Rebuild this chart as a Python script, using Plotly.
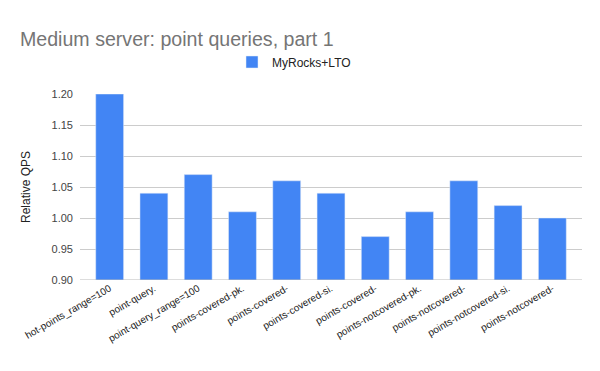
import plotly.graph_objects as go

categories = ["hot-points_range=100", "point-query.", "point-query_range=100",
              "points-covered-pk.", "points-covered-", "points-covered-si.",
              "points-covered-", "points-notcovered-pk.", "points-notcovered-",
              "points-notcovered-si.", "points-notcovered-"]
values = [1.20, 1.04, 1.07, 1.01, 1.06, 1.04, 0.97, 1.01, 1.06, 1.02, 1.00]
yticks = [0.90, 0.95, 1.00, 1.05, 1.10, 1.15, 1.20]
series_name = "MyRocks+LTO"

idx = list(range(len(categories)))

fig = go.Figure()
fig.add_trace(go.Bar(x=idx, y=values, name=series_name, marker_color="#4285f4",
                     width=0.63, showlegend=True))

fig.update_layout(
    width=600, height=371,
    margin=dict(l=72, r=26, t=86, b=99, autoexpand=False),
    paper_bgcolor="white", plot_bgcolor="white",
    font=dict(family="Liberation Sans, Arial, sans-serif", color="#222222"),
    title=dict(text="Medium server: point queries, part 1", x=12/600, xref="container",
               xanchor="left", yref="container", y=1 - 31/371, yanchor="middle",
               pad=dict(l=0, r=0, t=0, b=0),
               font=dict(size=19.6, color="#757575")),
    showlegend=True,
    legend=dict(orientation="h", x=286/600, xref="container", xanchor="center",
                y=1 - 54/371, yref="container",
                yanchor="middle", font=dict(size=12, color="#222222")),
    xaxis=dict(tickmode="array", tickvals=idx, ticktext=categories, tickangle=-30,
               range=[-0.67, 10.67], showgrid=False, zeroline=False, automargin=False,
               tickfont=dict(size=10, color="#222222"), showline=False, ticks=""),
    yaxis=dict(range=[0.9, 1.2], tickvals=yticks, ticktext=[f"{v:.2f}" for v in yticks],
               showgrid=True, gridcolor="#cccccc", zeroline=False, automargin=False,
               tickfont=dict(size=11, color="#444444"), ticklabelstandoff=6,
               title=dict(text="Relative QPS", font=dict(size=12, color="#222222"), standoff=18),
               ticks="", ticklen=0),
)
fig.add_shape(type="line", xref="paper", yref="y", x0=0, x1=1, y0=0.9, y1=0.9,
              line=dict(color="#bbbbbb", width=1))

fig.write_html("out.html")
